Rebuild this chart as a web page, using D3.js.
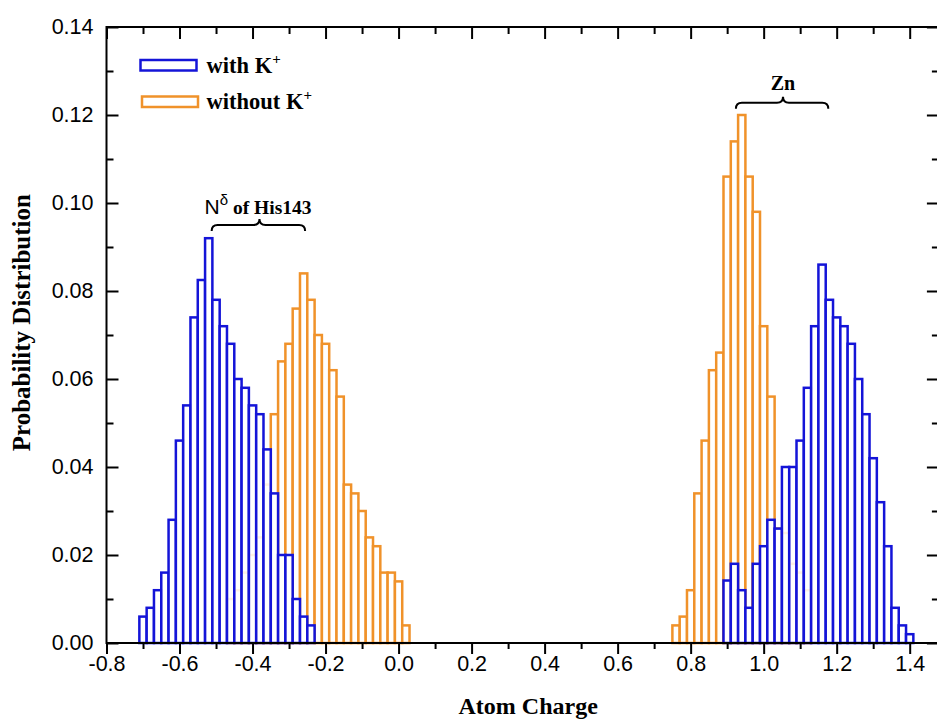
<!DOCTYPE html>
<meta charset="utf-8">
<script src="https://d3js.org/d3.v7.min.js"></script>
<style>
  body { margin: 0; background: #fff; }
</style>
<div id="chart"></div>
<script>

// histogram bin width (atom charge units)
var binWidth = 0.02;

// with K+ : N-delta of His143 peak, first bin starts at -0.71
var withK_left_start = -0.71;
var withK_left = [0.006, 0.008, 0.012, 0.016, 0.028, 0.046, 0.054, 0.074, 0.0825, 0.092,
                  0.078, 0.072, 0.068, 0.060, 0.058, 0.054, 0.052, 0.044, 0.034, 0.020,
                  0.020, 0.010, 0.006, 0.004];

// with K+ : Zn peak, first bin starts at 0.89
var withK_right_start = 0.89;
var withK_right = [0.0142, 0.018, 0.012, 0.008, 0.018, 0.022, 0.028, 0.026, 0.040, 0.040,
                   0.046, 0.058, 0.072, 0.086, 0.078, 0.074, 0.072, 0.068, 0.060, 0.052,
                   0.042, 0.032, 0.022, 0.008, 0.004, 0.002];

// without K+ : N-delta of His143 peak, first bin starts at -0.47
var noK_left_start = -0.47;
var noK_left = [0.010, 0.012, 0.016, 0.020, 0.024, 0.036, 0.052, 0.064, 0.068, 0.076,
                0.084, 0.078, 0.070, 0.068, 0.062, 0.056, 0.036, 0.034, 0.030, 0.024,
                0.022, 0.016, 0.016, 0.014, 0.004];

// without K+ : Zn peak, first bin starts at 0.75
var noK_right_start = 0.75;
var noK_right = [0.004, 0.006, 0.012, 0.034, 0.046, 0.062, 0.066, 0.106, 0.114, 0.120,
                 0.106, 0.098, 0.072, 0.056, 0.026, 0.025, 0.018, 0.016, 0.012];

// axis ticks
var xTicksMajor = [-0.8, -0.6, -0.4, -0.2, 0.0, 0.2, 0.4, 0.6, 0.8, 1.0, 1.2, 1.4];
var xTicksMinor = [-0.7, -0.5, -0.3, -0.1, 0.1, 0.3, 0.5, 0.7, 0.9, 1.1, 1.3];
var yTicksMajor = [0.00, 0.02, 0.04, 0.06, 0.08, 0.10, 0.12, 0.14];
var yTicksMinor = [0.01, 0.03, 0.05, 0.07, 0.09, 0.11, 0.13];

var blue = "#1414d8";
var orange = "#f0922a";

// chart size
var margin = {top: 27, right: 0, bottom: 78, left: 106.5},
    width = 832.4,
    height = 616;

var svg = d3.select("#chart")
  .append("svg")
    .attr("width", 937)
    .attr("height", 721)
  .append("g")
    .attr("transform", "translate(" + margin.left + "," + margin.top + ")");

var x = d3.scaleLinear().domain([-0.8, 1.48]).range([0, width]);
var y = d3.scaleLinear().domain([0, 0.14]).range([height, 0]);

// draws one histogram (outlined bars)
function drawHist(start, values, color, fillOpacity) {
  svg.append("g")
    .selectAll("rect")
    .data(values)
    .enter()
    .append("rect")
      .attr("x", function(d, i) { return x(start + i * binWidth); })
      .attr("width", function(d, i) { return x(start + (i + 1) * binWidth) - x(start + i * binWidth); })
      .attr("y", function(d) { return y(d); })
      .attr("height", function(d) { return y(0) - y(d); })
      .attr("fill", "#fff")
      .attr("fill-opacity", fillOpacity)
      .attr("stroke", color)
      .attr("stroke-width", 2.5);
}

// orange underneath, blue on top
drawHist(noK_left_start, noK_left, orange, 1);
drawHist(noK_right_start, noK_right, orange, 1);
drawHist(withK_left_start, withK_left, blue, 0.88);
drawHist(withK_right_start, withK_right, blue, 0.88);

// axes
function styleAxis(g) {
  g.select(".domain").remove();
  g.selectAll("line").attr("stroke", "#000").attr("stroke-width", 2);
  g.selectAll("text")
    .attr("font-family", "'Liberation Sans', Arial, sans-serif")
    .attr("font-size", 21.5)
    .attr("fill", "#000");
}

svg.append("g")
  .attr("transform", "translate(0," + height + ")")
  .call(d3.axisBottom(x).tickValues(xTicksMajor).tickSize(11).tickPadding(2)
        .tickFormat(function(d) { return d.toFixed(1); }))
  .call(styleAxis);
svg.append("g")
  .attr("transform", "translate(0," + height + ")")
  .call(d3.axisBottom(x).tickValues(xTicksMinor).tickSize(6).tickFormat(""))
  .call(styleAxis);

svg.append("g")
  .call(d3.axisTop(x).tickValues(xTicksMajor).tickSize(-12).tickFormat(""))
  .call(styleAxis);
svg.append("g")
  .call(d3.axisTop(x).tickValues(xTicksMinor).tickSize(-7).tickFormat(""))
  .call(styleAxis);

svg.append("g")
  .call(d3.axisLeft(y).tickValues(yTicksMajor).tickSize(-12).tickPadding(13)
        .tickFormat(function(d) { return d.toFixed(2); }))
  .call(styleAxis);
svg.append("g")
  .call(d3.axisLeft(y).tickValues(yTicksMinor).tickSize(-7).tickFormat(""))
  .call(styleAxis);

svg.append("g")
  .attr("transform", "translate(" + width + ",0)")
  .call(d3.axisRight(y).tickValues(yTicksMajor).tickSize(-12).tickFormat(""))
  .call(styleAxis);
svg.append("g")
  .attr("transform", "translate(" + width + ",0)")
  .call(d3.axisRight(y).tickValues(yTicksMinor).tickSize(-7).tickFormat(""))
  .call(styleAxis);

// frame
svg.append("rect")
  .attr("x", 0).attr("y", 0)
  .attr("width", width).attr("height", height)
  .attr("fill", "none")
  .attr("stroke", "#000")
  .attr("stroke-width", 2);

// axis titles
var serif = "'Liberation Serif', 'Times New Roman', serif";

svg.append("text")
  .attr("x", x(0.355))
  .attr("y", height + 71)
  .attr("text-anchor", "middle")
  .attr("font-family", serif)
  .attr("font-weight", "bold")
  .attr("font-size", 24)
  .text("Atom Charge");

svg.append("text")
  .attr("transform", "translate(-77," + y(0.0728) + ") rotate(-90)")
  .attr("text-anchor", "middle")
  .attr("font-family", serif)
  .attr("font-weight", "bold")
  .attr("font-size", 25)
  .text("Probability Distribution");

// legend
var legend = [
  {name: "with K", color: blue, row: 0},
  {name: "without K", color: orange, row: 1}
];
var lg = svg.append("g").attr("transform", "translate(34,33)");
lg.selectAll("rect")
  .data(legend)
  .enter()
  .append("rect")
    .attr("x", function(d) { return d.row * 1.5; })
    .attr("y", function(d) { return d.row * 36.5; })
    .attr("width", 56)
    .attr("height", 10.5)
    .attr("fill", "#fff")
    .attr("stroke", function(d) { return d.color; })
    .attr("stroke-width", 2.5);
var lt = lg.selectAll("text")
  .data(legend)
  .enter()
  .append("text")
    .attr("x", 66)
    .attr("y", function(d) { return d.row * 36.5 + 12.5; })
    .attr("font-family", serif)
    .attr("font-weight", "bold")
    .attr("font-size", 22.5);
lt.append("tspan").text(function(d) { return d.name; });
lt.append("tspan").attr("dy", -9).attr("font-size", 15).text("+");

// curly brackets above the peaks
var braces = [
  {from: -0.512, mid: -0.381, to: -0.256, level: 0.095},
  {from: 0.924, mid: 1.053, to: 1.177, level: 0.1228}
];
svg.selectAll(".brace")
  .data(braces)
  .enter()
  .append("path")
    .attr("class", "brace")
    .attr("fill", "none")
    .attr("stroke", "#000")
    .attr("stroke-width", 2)
    .attr("d", function(d) {
      var x0 = x(d.from), xm = x(d.mid), x1 = x(d.to), yl = y(d.level);
      return "M" + x0 + "," + (yl + 6) +
             " Q" + x0 + "," + yl + " " + (x0 + 6) + "," + yl +
             " L" + (xm - 6) + "," + yl +
             " Q" + xm + "," + yl + " " + xm + "," + (yl - 6) +
             " Q" + xm + "," + yl + " " + (xm + 6) + "," + yl +
             " L" + (x1 - 6) + "," + yl +
             " Q" + x1 + "," + yl + " " + x1 + "," + (yl + 6);
    });

// bracket labels
var nd = svg.append("text")
  .attr("x", x(-0.385))
  .attr("y", y(0.0975))
  .attr("text-anchor", "middle")
  .attr("font-family", serif)
  .attr("font-weight", "bold")
  .attr("font-size", 19.5);
nd.append("tspan")
  .attr("font-family", "'Liberation Sans', Arial, sans-serif")
  .attr("font-weight", "normal")
  .attr("font-size", 21)
  .text("N");
nd.append("tspan")
  .attr("dy", -9)
  .attr("font-family", "'Liberation Sans', Arial, sans-serif")
  .attr("font-weight", "normal")
  .attr("font-size", 15)
  .text("δ");
nd.append("tspan")
  .attr("dy", 9)
  .text(" of His143");

svg.append("text")
  .attr("x", x(1.053))
  .attr("y", y(0.1256))
  .attr("text-anchor", "middle")
  .attr("font-family", serif)
  .attr("font-weight", "bold")
  .attr("font-size", 20)
  .text("Zn");

</script>
